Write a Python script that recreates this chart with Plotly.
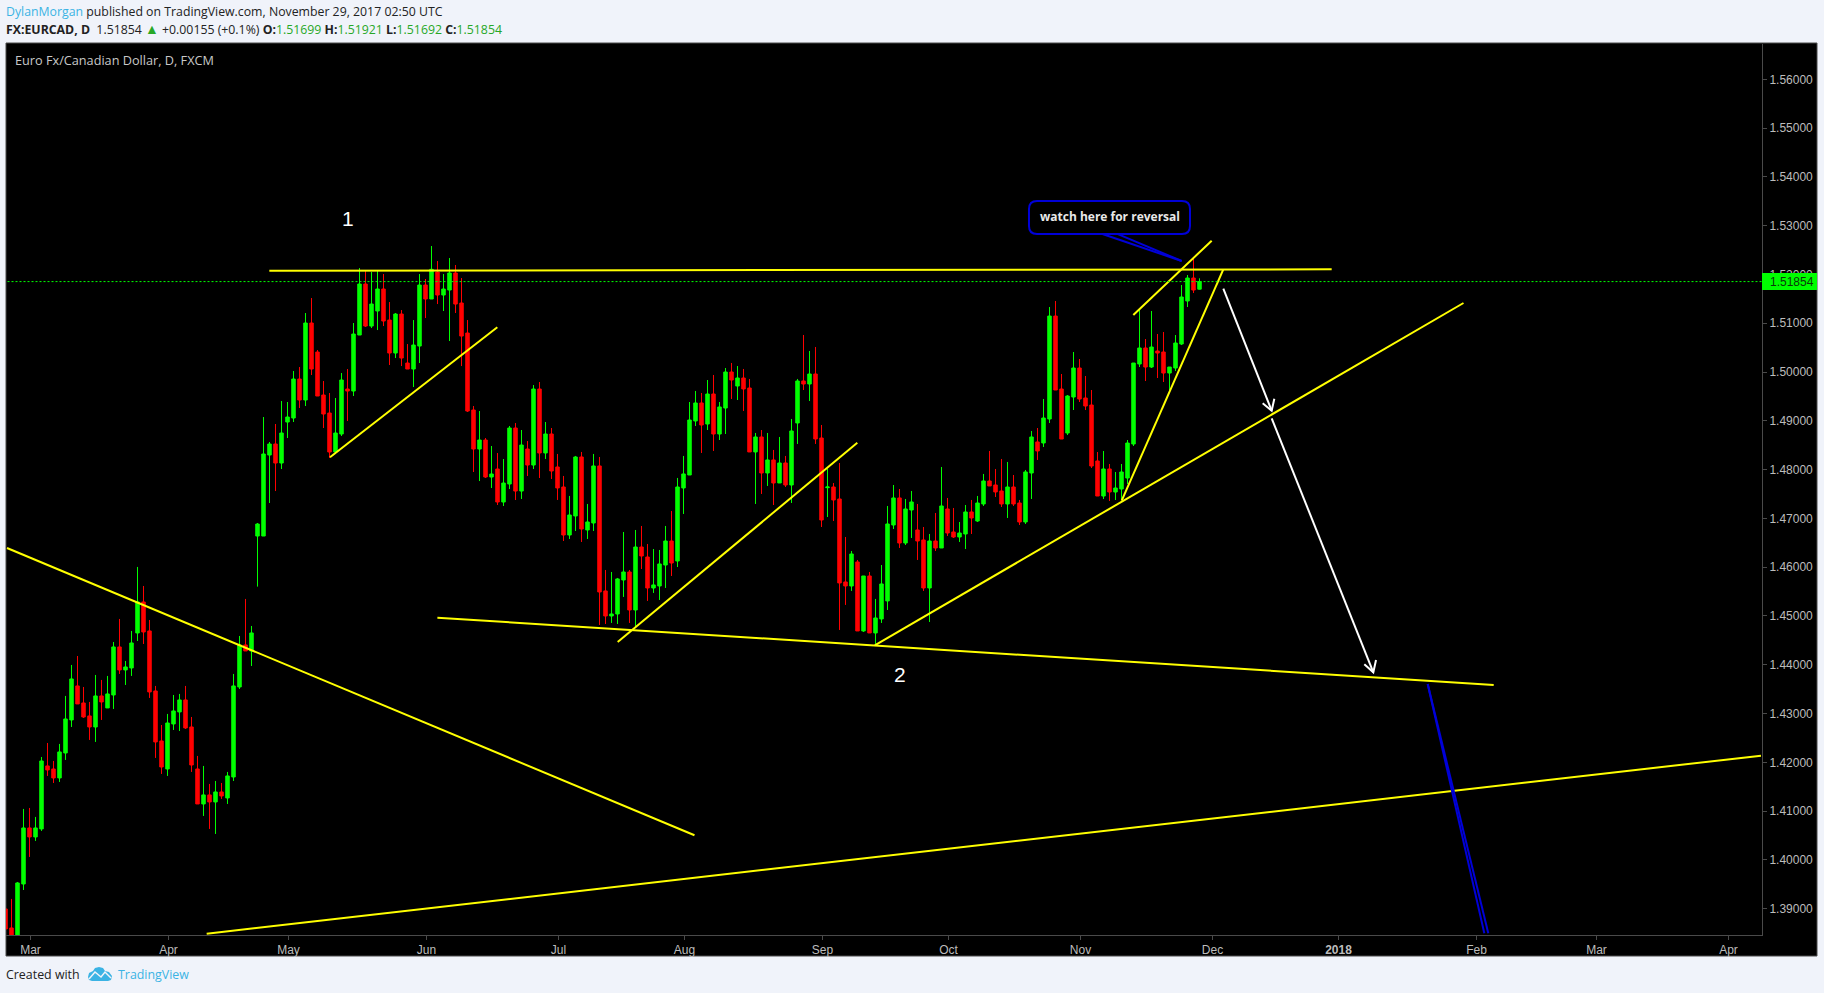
import plotly.graph_objects as go

# ---------- daily candles (first bar is partly cut by the left edge) ----------
opens = [
1.38995,1.38605,1.3842,1.39507,1.40655,1.40471,1.40635,1.41926,1.41864,1.41680,
1.42192,1.42869,1.43566,1.43217,1.42951,1.42725,1.43361,1.43115,1.43381,1.44365,
1.43894,1.43935,1.44652,1.45287,1.44693,1.43463,1.42438,1.41864,1.42787,1.43033,
1.43279,1.42725,1.41864,1.41147,1.41332,1.41188,1.41393,1.41270,1.41700,1.43545,
1.44406,1.44283,1.46639,1.46639,1.48299,1.48525,1.48135,1.48976,1.49058,1.49857,
1.49427,1.51005,1.50410,1.49529,1.49160,1.48361,1.48730,1.49652,1.49611,1.50759,
1.51804,1.50943,1.51251,1.51702,1.51066,1.50390,1.51189,1.50185,1.50062,1.50533,
1.51784,1.51497,1.52050,1.51579,1.51681,1.52030,1.51415,1.50800,1.49222,1.48422,
1.48607,1.47848,1.48012,1.47336,1.47705,1.48853,1.47561,1.48422,1.48094,1.49652,
1.48341,1.48730,1.48054,1.47644,1.46660,1.47050,1.48259,1.46763,1.46906,1.48075,
1.45513,1.45000,1.45041,1.45738,1.45902,1.45123,1.46414,1.46209,1.45574,1.45615,
1.46045,1.46537,1.46127,1.47624,1.47890,1.48997,1.49366,1.48935,1.49550,1.48730,
1.49263,1.50001,1.49714,1.49878,1.49673,1.48362,1.48669,1.47931,1.48198,1.47726,
1.48136,1.47685,1.48956,1.49817,1.49755,1.49960,1.48648,1.47630,1.47644,1.47398,
1.45697,1.45615,1.46107,1.44693,1.45820,1.44652,1.44939,1.45308,1.46865,1.47419,
1.46496,1.47173,1.46763,1.46558,1.45574,1.46537,1.46394,1.47193,1.46722,1.46619,
1.46681,1.47132,1.46947,1.47296,1.47767,1.47685,1.47562,1.47296,1.47644,1.47316,
1.46927,1.47931,1.48567,1.48546,1.49037,1.51148,1.49652,1.48750,1.49488,1.50083,
1.49468,1.49324,1.48177,1.47459,1.48013,1.47541,1.47603,1.47828,1.48525,1.50165,
1.50493,1.50103,1.50431,1.50411,1.49980,1.50083,1.50575,1.51456,1.51927,1.51699]
highs = [
1.38995,1.39200,1.39548,1.41045,1.41065,1.40881,1.42110,1.42397,1.42028,1.42377,
1.43361,1.43996,1.44180,1.43545,1.43238,1.43791,1.43689,1.43771,1.44467,1.44939,
1.44078,1.44693,1.46005,1.45615,1.44918,1.43566,1.42766,1.42992,1.43381,1.43402,
1.43566,1.42930,1.42131,1.41926,1.41557,1.41618,1.41577,1.41803,1.43812,1.44590,
1.45349,1.44795,1.46906,1.49078,1.48566,1.48935,1.49406,1.49386,1.50021,1.50103,
1.51210,1.51517,1.50451,1.49816,1.49570,1.49468,1.49980,1.50062,1.51005,1.52132,
1.52071,1.52050,1.52091,1.52009,1.51435,1.51210,1.51271,1.50574,1.51066,1.52009,
1.51907,1.52583,1.52276,1.52009,1.52337,1.52194,1.51927,1.51066,1.49304,1.49201,
1.48648,1.48484,1.48340,1.48217,1.48894,1.48955,1.48812,1.48586,1.49734,1.49796,
1.48976,1.48853,1.48321,1.47870,1.47460,1.48280,1.48362,1.47296,1.48321,1.48259,
1.45943,1.45902,1.45779,1.46722,1.45943,1.46763,1.46845,1.46476,1.46373,1.46353,
1.46845,1.47152,1.47829,1.48280,1.49386,1.49612,1.49571,1.49837,1.49940,1.49386,
1.50083,1.50186,1.50124,1.50063,1.49858,1.48751,1.48812,1.48751,1.48403,1.48669,
1.48280,1.49038,1.49858,1.50760,1.50432,1.50514,1.48915,1.48013,1.47726,1.48136,
1.46619,1.46332,1.46148,1.45820,1.45902,1.45349,1.46045,1.47255,1.47685,1.47603,
1.47398,1.47562,1.47296,1.46824,1.46681,1.47111,1.48054,1.47419,1.47214,1.46927,
1.47275,1.47378,1.47460,1.47911,1.48382,1.48013,1.48218,1.48157,1.47890,1.47378,
1.47993,1.48792,1.48853,1.49448,1.51333,1.51456,1.49960,1.49529,1.50411,1.50267,
1.49919,1.49632,1.48361,1.48381,1.48115,1.47951,1.48115,1.48607,1.50185,1.51271,
1.50677,1.51251,1.50780,1.50821,1.50103,1.50759,1.51784,1.51989,1.52317,1.51921]
lows = [
1.38585,1.3842,1.3842,1.39384,1.40061,1.40389,1.40594,1.41721,1.41577,1.41598,
1.42049,1.42725,1.43197,1.42910,1.42459,1.42418,1.42869,1.43115,1.43094,1.43812,
1.43586,1.43771,1.44488,1.44426,1.43320,1.42090,1.41762,1.41721,1.42664,1.42643,
1.42684,1.41803,1.41147,1.40901,1.40635,1.40532,1.41250,1.41147,1.41618,1.43504,
1.44283,1.43975,1.45602,1.46639,1.47316,1.47561,1.48012,1.48648,1.48976,1.49263,
1.49304,1.49939,1.49509,1.48853,1.48238,1.48320,1.48689,1.48996,1.49509,1.50759,
1.50923,1.50902,1.50861,1.50943,1.50144,1.50287,1.50123,1.50062,1.49693,1.50185,
1.51107,1.51497,1.51394,1.51251,1.50636,1.51210,1.50123,1.49181,1.47951,1.47766,
1.47828,1.47623,1.47275,1.47254,1.47602,1.47377,1.47398,1.47869,1.48012,1.47828,
1.48218,1.47808,1.47378,1.46537,1.46578,1.46742,1.46517,1.46578,1.46742,1.44816,
1.44836,1.44857,1.44836,1.45390,1.44857,1.44775,1.45963,1.45308,1.45472,1.45328,
1.45574,1.45820,1.46004,1.47091,1.47890,1.48894,1.48341,1.48812,1.48382,1.48607,
1.48730,1.49448,1.49427,1.49202,1.48362,1.47296,1.47501,1.47665,1.47275,1.47726,
1.47644,1.47316,1.48526,1.49632,1.49407,1.48526,1.46824,1.47029,1.46947,1.44713,
1.45226,1.45513,1.44693,1.44672,1.44652,1.44426,1.44857,1.45123,1.46783,1.46394,
1.46455,1.46599,1.46148,1.45513,1.44877,1.46332,1.46394,1.46640,1.46599,1.46517,
1.46373,1.46681,1.46927,1.47255,1.47665,1.47439,1.47234,1.47009,1.47255,1.46865,
1.46886,1.47398,1.48198,1.48464,1.48955,1.49632,1.48627,1.48709,1.49222,1.49386,
1.49222,1.48033,1.47459,1.47398,1.47357,1.47377,1.47377,1.47705,1.48484,1.50103,
1.49816,1.50083,1.49878,1.49796,1.49632,1.50021,1.50554,1.51333,1.51620,1.51692]
closes = [
1.38585,1.3842,1.39528,1.40655,1.40471,1.40655,1.42028,1.41844,1.41680,1.42213,
1.42889,1.43709,1.43197,1.42930,1.42725,1.43361,1.43238,1.43402,1.44365,1.43894,
1.43955,1.44447,1.45287,1.44672,1.43443,1.42418,1.41905,1.42807,1.43053,1.43279,
1.42705,1.41946,1.41147,1.41332,1.41188,1.41393,1.41311,1.41721,1.43566,1.44406,
1.44283,1.44652,1.46885,1.48320,1.48525,1.48135,1.48750,1.49078,1.49857,1.49427,
1.51005,1.50062,1.49509,1.49140,1.48361,1.48750,1.49837,1.49611,1.50779,1.51804,
1.50943,1.51394,1.51702,1.51046,1.50390,1.51189,1.50287,1.50062,1.50554,1.51784,
1.51497,1.52105,1.51579,1.51702,1.52030,1.51394,1.50738,1.49201,1.48422,1.48607,
1.47848,1.47910,1.47336,1.47725,1.48853,1.47561,1.48504,1.48094,1.49652,1.48341,
1.48730,1.47972,1.47624,1.46660,1.47070,1.48259,1.46783,1.46927,1.48075,1.45492,
1.45000,1.45041,1.45759,1.45902,1.45123,1.46414,1.46230,1.45574,1.45636,1.46066,
1.46537,1.46086,1.47644,1.47911,1.49017,1.49366,1.48915,1.49550,1.48730,1.49284,
1.50001,1.49837,1.49878,1.49653,1.48362,1.48669,1.47931,1.48198,1.47726,1.48136,
1.47685,1.48792,1.49817,1.49755,1.49960,1.48628,1.46968,1.47644,1.47378,1.45677,
1.45615,1.46271,1.44693,1.45820,1.44652,1.44959,1.45656,1.46886,1.47419,1.46496,
1.47193,1.47337,1.46537,1.45574,1.46537,1.46394,1.47255,1.46701,1.46619,1.46701,
1.47132,1.47009,1.47316,1.47767,1.47665,1.47542,1.47296,1.47644,1.47296,1.46927,
1.47952,1.48669,1.48382,1.49058,1.51148,1.49632,1.48627,1.49509,1.50083,1.49447,
1.49304,1.48074,1.47459,1.48013,1.47541,1.47623,1.47951,1.48545,1.50185,1.50493,
1.50103,1.50513,1.50390,1.49980,1.50103,1.50595,1.51538,1.51927,1.51681,1.51854]
bar_index = list(range(-1, len(opens) - 1))

# ---------- axes ----------
month_labels = ["Mar", "Apr", "May", "Jun", "Jul", "Aug", "Sep", "Oct", "Nov", "Dec", "<b>2018</b>", "Feb", "Mar", "Apr"]
month_bars = [3, 26, 46, 69, 91, 112, 135, 156, 178, 200, 221, 244, 264, 286]
price_ticks = [1.39, 1.40, 1.41, 1.42, 1.43, 1.44, 1.45, 1.46, 1.47, 1.48, 1.49, 1.50, 1.51, 1.52, 1.53, 1.54, 1.55, 1.56]
last_price = closes[-1]

# ---------- drawings, as (bar index, price) ----------
yellow_x = [[42.97, 220.03], [53.08, 80.97], [-0.75, 113.83], [70.98, 247.03], [101.03, 140.97],
            [143.88, 242.0], [185.03, 201.97], [186.97, 200.03], [32.53, 291.58]]
yellow_y = [[1.52077, 1.52106], [1.48253, 1.50917], [1.46393, 1.40505], [1.44965, 1.43586], [1.44465, 1.48552],
            [1.44399, 1.51415], [1.47363, 1.52106], [1.51169, 1.52692], [1.38488, 1.42137]]
white_x = [[201.97, 210.03], [208.53, 210.03, 210.47], [210.03, 226.97], [225.47, 226.97, 227.42]]
white_y = [[1.51708, 1.49208], [1.49359, 1.49208, 1.49454], [1.49052, 1.43846], [1.44010, 1.43846, 1.44098]]
blue_x = [[236.03, 245.47], [236.03, 246.13], [181.7, 195.03], [184.2, 195.03]]
blue_y = [[1.43606, 1.38496], [1.43606, 1.38496], [1.52836, 1.52276], [1.52836, 1.52276]]

BG = "#f0f3fa"
AXIS = "#4a4a4a"
TICK = "#bcbcbc"
BLUE = "#0000d8"
L, R, T, B = 6, 1762, 44, 935      # plot box in page pixels
W, H = 1824, 993
TICK_NUDGE = 1 / 6                 # month ticks sit one pixel right of the bar centre


def px(x):
    return (x - L) / (R - L)


def py(y):
    return (B - y) / (B - T)


def rect(x0, y0, x1, y1, **kw):
    return dict(type="rect", xref="paper", yref="paper", x0=px(x0), x1=px(x1), y0=py(y0), y1=py(y1), **kw)


def path_of(points):
    return "M" + " L".join(f"{px(a):.5f},{py(b):.5f}" for a, b in points)


def label(x, y, text, size=12, color="#222", family="Open Sans", xanchor="left", **kw):
    return dict(xref="paper", yref="paper", x=px(x), y=py(y), text=text, showarrow=False, xanchor=xanchor,
                yanchor="middle", borderpad=0, borderwidth=0, font=dict(size=size, color=color, family=family), **kw)


fig = go.Figure()
fig.add_trace(go.Candlestick(
    x=bar_index, open=opens, high=highs, low=lows, close=closes, whiskerwidth=0,
    increasing=dict(line=dict(color="#00ff00", width=1), fillcolor="#00ff00"),
    decreasing=dict(line=dict(color="#ff0000", width=1), fillcolor="#ff0000"),
    hoverinfo="skip"))

for xs, ys in zip(yellow_x, yellow_y):
    fig.add_trace(go.Scatter(x=xs, y=ys, mode="lines", line=dict(color="#ffff00", width=2), hoverinfo="skip"))
for xs, ys in zip(white_x, white_y):
    fig.add_trace(go.Scatter(x=xs, y=ys, mode="lines", line=dict(color="#ffffff", width=2), hoverinfo="skip"))
for xs, ys in zip(blue_x, blue_y):
    fig.add_trace(go.Scatter(x=xs, y=ys, mode="lines", line=dict(color=BLUE, width=2), hoverinfo="skip"))
fig.add_trace(go.Scatter(x=[bar_index[0] - 1, 292], y=[last_price, last_price], mode="lines",
                         line=dict(color="#00ff00", width=1, dash="2px,2px"), hoverinfo="skip"))

GREEN_T = "#27a827"
def v(s):
    return f'<span style="color:{GREEN_T}">{s}</span>'

annotations = [
    label(6, 11.2, '<span style="color:#3bb3e4">DylanMorgan</span> published on TradingView.com, November 29, 2017 02:50 UTC', size=12.3),
    label(6, 28.2, f'<b>FX:EURCAD, D</b>  1.51854 <span style="color:{GREEN_T};font-size:14px">▲</span> +0.00155 (+0.1%) '
                   f'<b>O:</b>{v("1.51699")} <b>H:</b>{v("1.51921")} <b>L:</b>{v("1.51692")} <b>C:</b>{v("1.51854")}', size=12.3),
    label(15, 60, "Euro Fx/Canadian Dollar, D, FXCM", size=12.7, color="#c8c8c8"),
    label(6, 974.7, "Created with", size=12.4),
    label(118, 974.7, "TradingView", size=12.4, color="#3bb3e4"),
    label(348, 218, "1", size=21, color="#ffffff", family="Liberation Sans", xanchor="center"),
    label(900, 674, "2", size=21, color="#ffffff", family="Liberation Sans", xanchor="center"),
    label(1109.5, 216, "<b>watch here for reversal</b>", size=12, color="#e8e8e8", xanchor="center"),
    label(1770, 281.5, f"{last_price:.5f}", size=12, color="#0a3a0a", family="Liberation Sans"),
]

shapes = [
    rect(6, 43, 1817, 956, layer="below", fillcolor="#000000", line=dict(color=AXIS, width=1)),
    rect(1762, 273, 1817, 290, layer="above", fillcolor="#00ff00", line=dict(width=0)),
    dict(type="path", xref="paper", yref="paper", layer="above", line=dict(color=BLUE, width=2), fillcolor="#000000",
         path=("M" + f"{px(1037):.5f},{py(201):.5f}"
               + f" L{px(1182):.5f},{py(201):.5f} Q{px(1190):.5f},{py(201):.5f} {px(1190):.5f},{py(209):.5f}"
               + f" L{px(1190):.5f},{py(226):.5f} Q{px(1190):.5f},{py(234):.5f} {px(1182):.5f},{py(234):.5f}"
               + f" L{px(1037):.5f},{py(234):.5f} Q{px(1029):.5f},{py(234):.5f} {px(1029):.5f},{py(226):.5f}"
               + f" L{px(1029):.5f},{py(209):.5f} Q{px(1029):.5f},{py(201):.5f} {px(1037):.5f},{py(201):.5f} Z")),
    dict(type="path", xref="paper", yref="paper", layer="above", line=dict(width=0), fillcolor="#3bb3e4",
         path=path_of([(88, 977), (89, 973), (93, 971), (95, 968), (99, 967), (103, 968), (105, 971),
                       (109, 972), (112, 976), (111, 980), (108, 981), (92, 981), (89, 980)]) + " Z"),
    dict(type="path", xref="paper", yref="paper", layer="above", line=dict(color=BG, width=1.5),
         path=path_of([(89, 979), (95, 972), (101, 977), (105, 972), (111, 978)])),
]

fig.update_layout(
    width=W, height=H, showlegend=False, autosize=False,
    margin=dict(l=L, r=W - R, t=T, b=H - B, pad=0),
    paper_bgcolor=BG, plot_bgcolor="#000000", boxgap=0.17,
    annotations=annotations, shapes=shapes,
    xaxis=dict(range=[-0.9167, 291.75], rangeslider=dict(visible=False), showgrid=False, zeroline=False,
               tickmode="array", tickvals=[m + TICK_NUDGE for m in month_bars], ticktext=month_labels,
               ticks="outside", ticklen=4, tickwidth=1,
               tickcolor=AXIS, showline=True, linecolor=AXIS, linewidth=1,
               tickfont=dict(family="Liberation Sans", size=12, color=TICK)),
    yaxis=dict(range=[1.38461, 1.56724], side="right", showgrid=False, zeroline=False,
               tickmode="array", tickvals=price_ticks, tickformat=".5f", ticks="outside", ticklen=4, tickwidth=1,
               tickcolor=AXIS, showline=True, linecolor=AXIS, linewidth=1,
               tickfont=dict(family="Liberation Sans", size=12, color=TICK)),
)

fig.write_html("out.html", config=dict(displayModeBar=False),
               post_script="document.body.style.margin='0';document.body.style.background='%s';" % BG)
